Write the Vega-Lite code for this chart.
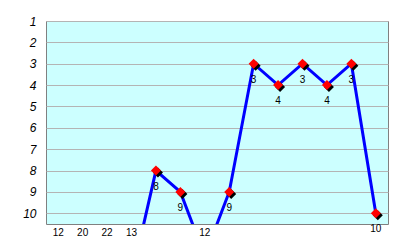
{
  "$schema": "https://vega.github.io/schema/vega-lite/v6.json",
  "width": 342,
  "height": 203,
  "autosize": "none",
  "padding": {"left": 46, "top": 21, "right": 12, "bottom": 21},
  "background": "white",
  "config": {"view": {"stroke": "#808080", "fill": "#CCFFFF", "strokeWidth": 1}},
  "data": {"values": [
    {"i": 1, "rank": 12},
    {"i": 2, "rank": 20},
    {"i": 3, "rank": 22},
    {"i": 4, "rank": 13},
    {"i": 5, "rank": 8},
    {"i": 6, "rank": 9},
    {"i": 7, "rank": 12},
    {"i": 8, "rank": 9},
    {"i": 9, "rank": 3},
    {"i": 10, "rank": 4},
    {"i": 11, "rank": 3},
    {"i": 12, "rank": 4},
    {"i": 13, "rank": 3},
    {"i": 14, "rank": 10}
  ]},
  "encoding": {
    "x": {"field": "i", "type": "ordinal", "axis": null, "scale": {"paddingInner": 0, "paddingOuter": 0}}
  },
  "layer": [
    {
      "mark": {"type": "line", "color": "#0000FF", "strokeWidth": 3, "clip": true},
      "encoding": {
        "y": {"field": "rank", "type": "quantitative",
          "scale": {"domain": [1, 10.5], "reverse": true, "nice": false, "zero": false},
          "axis": {"values": [1, 2, 3, 4, 5, 6, 7, 8, 9, 10], "grid": true, "gridColor": "#B4B4B4", "gridWidth": 1,
            "domain": false, "ticks": false, "labelPadding": 10, "labelFont": "Liberation Sans",
            "labelFontStyle": "italic", "labelFontSize": 12, "labelColor": "black", "title": null}}
      }
    },
    {
      "mark": {"type": "point", "shape": "diamond", "filled": true, "size": 100, "color": "black", "opacity": 1, "xOffset": 2, "yOffset": 2, "clip": true},
      "encoding": {
        "y": {"field": "rank", "type": "quantitative", "scale": {"domain": [1, 10.5], "reverse": true, "nice": false, "zero": false}, "axis": null}
      }
    },
    {
      "mark": {"type": "point", "shape": "diamond", "filled": true, "size": 100, "color": "#FF0000", "opacity": 1, "clip": true},
      "encoding": {
        "y": {"field": "rank", "type": "quantitative", "scale": {"domain": [1, 10.5], "reverse": true, "nice": false, "zero": false}, "axis": null}
      }
    },
    {
      "transform": [{"filter": "datum.rank <= 10.5"}],
      "mark": {"type": "text", "dy": 16, "font": "Liberation Sans", "fontSize": 10, "color": "black", "baseline": "middle"},
      "encoding": {
        "y": {"field": "rank", "type": "quantitative", "scale": {"domain": [1, 10.5], "reverse": true, "nice": false, "zero": false}, "axis": null},
        "text": {"field": "rank", "type": "quantitative"}
      }
    },
    {
      "transform": [{"filter": "datum.rank > 10.5"}],
      "mark": {"type": "text", "dy": 9, "font": "Liberation Sans", "fontSize": 10, "color": "black", "baseline": "middle"},
      "encoding": {
        "y": {"field": "rank", "type": "quantitative", "scale": {"domain": [1, 10.5], "reverse": true, "nice": false, "zero": false, "clamp": true}, "axis": null},
        "text": {"field": "rank", "type": "quantitative"}
      }
    }
  ],
  "resolve": {"scale": {"y": "independent"}}
}
